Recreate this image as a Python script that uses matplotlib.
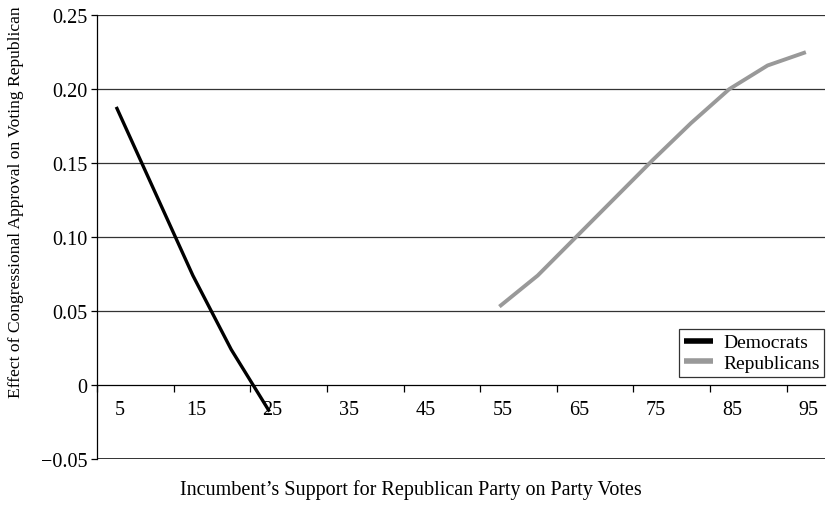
import numpy as np
import matplotlib
matplotlib.use("Agg")
import matplotlib.pyplot as plt
import matplotlib.transforms as mtransforms

# support levels (categories, step 5)
support = list(range(5, 100, 5))
dem_support = [5, 10, 15, 20, 25]
dem_effect = [0.188, 0.131, 0.074, 0.024, -0.018]
rep_support = [55, 60, 65, 70, 75, 80, 85, 90, 95]
rep_effect = [0.053, 0.074, 0.100, 0.126, 0.152, 0.177, 0.200, 0.216, 0.225]
y_ticks = [-0.05, 0, 0.05, 0.10, 0.15, 0.20, 0.25]
y_labels = ["\u22120.05", "0", "0.05", "0.10", "0.15", "0.20", "0.25"]

plt.rcParams["font.family"] = ["Liberation Serif", "DejaVu Serif"]

fig = plt.figure(figsize=(8.3, 5.06), dpi=100)
ax = fig.add_axes([0.117, 0.091, 0.877, 0.877])

pos = {s: i for i, s in enumerate(support)}
ax.plot([pos[s] for s in dem_support], dem_effect, color="black", lw=2.4,
        label="Democrats", solid_capstyle="butt", zorder=3)
ax.plot([pos[s] for s in rep_support], rep_effect, color="#999999", lw=2.8,
        label="Republicans", solid_capstyle="butt", zorder=3)

for y in y_ticks[2:]:
    ax.axhline(y, color="#333333", lw=0.9, zorder=1)
ax.axhline(-0.05, color="#222222", lw=1.3, zorder=1)

ax.set_xlim(-0.5, len(support) - 0.5)
ax.set_ylim(-0.05, 0.25)
ax.set_yticks(y_ticks)
ax.set_yticklabels(y_labels, fontsize=14.5)
ax.tick_params(axis="y", direction="out", length=4, width=0.9, pad=3)

# category axis: tick marks on boundaries every 2 categories, labels every 2
ax.spines["bottom"].set_position(("data", 0))
ax.spines["bottom"].set_linewidth(0.9)
ax.spines["top"].set_visible(False)
ax.spines["right"].set_visible(False)
ax.spines["left"].set_linewidth(0.9)
ax.set_xticks(np.arange(-0.5, len(support), 2))
ax.set_xticklabels([])
ax.tick_params(axis="x", which="major", direction="out", length=5, width=0.9)
ax.set_xticks([pos[s] for s in support[::2]], minor=True)
ax.set_xticklabels([str(s) for s in support[::2]], minor=True, fontsize=14.5)
ax.tick_params(axis="x", which="minor", length=0, pad=11)
shift = mtransforms.ScaledTranslation(3 / 100, 0, fig.dpi_scale_trans)
for t in ax.xaxis.get_minorticklabels():
    t.set_transform(t.get_transform() + shift)

ax.set_ylabel("Effect of Congressional Approval on Voting Republican", fontsize=12.6)
ax.yaxis.set_label_coords(-0.1, 0.58)
fig.text(0.495, 0.031, "Incumbent\u2019s Support for Republican Party on Party Votes",
         ha="center", va="center", fontsize=14.5)

leg = ax.legend(loc="lower right", bbox_to_anchor=(0.999, 0.185), fontsize=14,
                frameon=True, fancybox=False, edgecolor="black",
                handlelength=1.5, borderpad=0.25, labelspacing=0.15,
                handletextpad=0.5, borderaxespad=0.0)
leg.get_frame().set_linewidth(0.9)
for h in leg.get_lines():
    h.set_linewidth(4)

fig.savefig("out.png", dpi=100)
